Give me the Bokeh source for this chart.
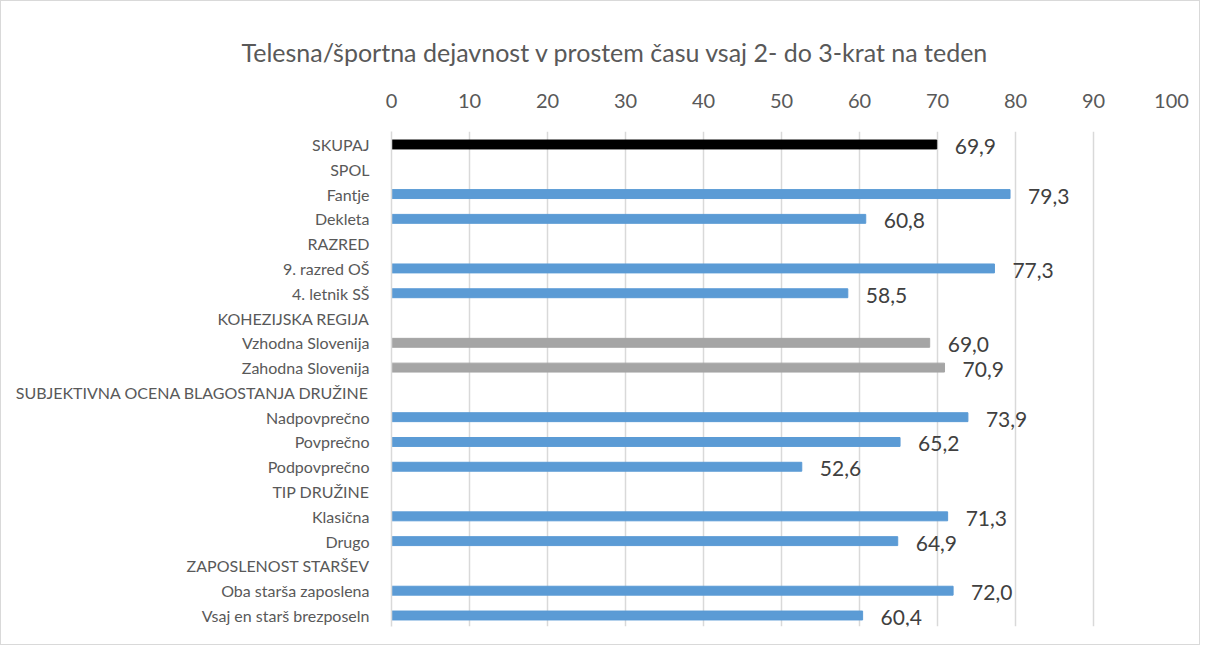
from bokeh.plotting import figure
from bokeh.models import ColumnDataSource, FixedTicker, Range1d
from bokeh.embed import file_html
from bokeh.resources import INLINE

categories = ["SKUPAJ", "SPOL", "Fantje", "Dekleta", "RAZRED", "9. razred OŠ", "4. letnik SŠ",
              "KOHEZIJSKA REGIJA", "Vzhodna Slovenija", "Zahodna Slovenija",
              "SUBJEKTIVNA OCENA BLAGOSTANJA DRUŽINE", "Nadpovprečno", "Povprečno", "Podpovprečno",
              "TIP DRUŽINE", "Klasična", "Drugo", "ZAPOSLENOST STARŠEV",
              "Oba starša zaposlena", "Vsaj en starš brezposeln"]
values = [69.9, None, 79.3, 60.8, None, 77.3, 58.5, None, 69.0, 70.9,
          None, 73.9, 65.2, 52.6, None, 71.3, 64.9, None, 72.0, 60.4]
groups = ["total", None, "main", "main", None, "main", "main", None, "region", "region",
          None, "main", "main", "main", None, "main", "main", None, "main", "main"]
x_ticks = [0, 10, 20, 30, 40, 50, 60, 70, 80, 90, 100]
title_text = "Telesna/športna dejavnost v prostem času vsaj 2- do 3-krat na teden"

colors = {"total": "#000000", "main": "#5b9bd5", "region": "#a5a5a5"}
FONT = "Lato"

ys, xs, cols, labels = [], [], [], []
for i, (v, g) in enumerate(zip(values, groups)):
    if v is None:
        continue
    ys.append(-i)
    xs.append(v)
    cols.append(colors[g])
    labels.append(f"{v:.1f}".replace(".", ","))
src = ColumnDataSource(dict(y=ys, x=xs, color=cols, label=labels))

p = figure(width=1200, height=645, output_backend="svg", toolbar_location=None,
           x_axis_location="above",
           x_range=Range1d(0, 100), y_range=Range1d(-19.444, 0.524),
           min_border_left=390, min_border_right=30, min_border_top=130, min_border_bottom=20)
p.styles = {"border": "1px solid #d9d9d9", "box-sizing": "border-box"}

p.title.text = title_text
p.title.text_font = FONT
p.title.text_font_size = "25px"
p.title.text_font_style = "normal"
p.title.text_color = "#595959"
p.title.align = "left"
p.title.offset = -150
p.title.standoff = 47

p.hbar(y="y", right="x", left=0, height=0.36, color="color", source=src)
p.text(x="x", y="y", text="label", source=src, x_offset=18, y_offset=2,
       text_baseline="middle", text_align="left", text_font_size="21px",
       text_color="#404040", text_font={"value": FONT})

xa = p.xaxis[0]
xa.ticker = FixedTicker(ticks=x_ticks)
xa.axis_line_color = None
xa.major_tick_line_color = None
xa.minor_tick_line_color = None
xa.major_label_text_font = FONT
xa.major_label_text_font_size = "20px"
xa.major_label_text_color = "#595959"
xa.major_label_standoff = 18

ya = p.yaxis[0]
ya.ticker = FixedTicker(ticks=[-i for i in range(len(categories))])
ya.major_label_overrides = {-i: c for i, c in enumerate(categories)}
ya.axis_line_color = "#d9d9d9"
ya.axis_line_width = 1.5
ya.major_tick_line_color = None
ya.minor_tick_line_color = None
ya.major_label_text_font = FONT
ya.major_label_text_font_size = "16px"
ya.major_label_text_color = "#595959"
ya.major_label_standoff = 16

p.xgrid.ticker = FixedTicker(ticks=x_ticks)
p.xgrid.grid_line_color = "#d9d9d9"
p.xgrid.grid_line_width = 1.5
p.ygrid.grid_line_color = None
p.outline_line_color = None

open("out.html", "w").write(file_html(p, INLINE))
